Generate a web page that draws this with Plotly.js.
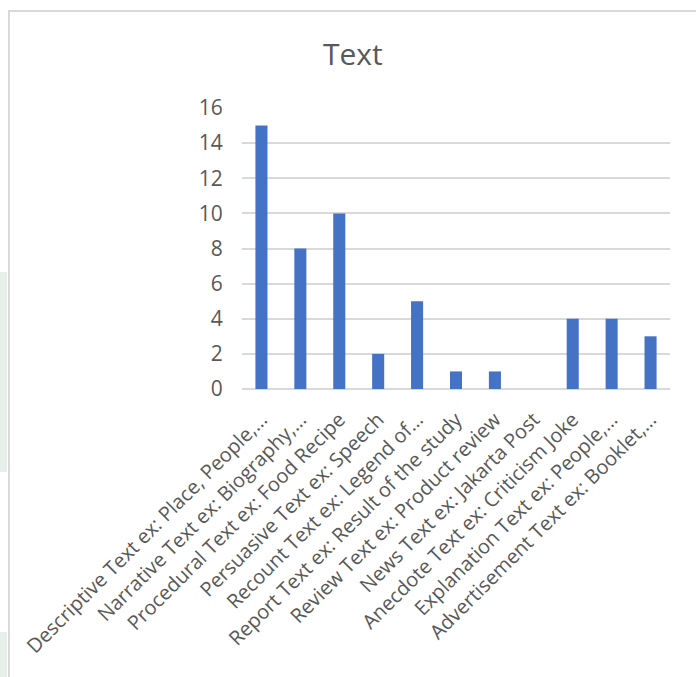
<!DOCTYPE html>
<html>
<head>
<meta charset="utf-8">
<script src="https://cdn.plot.ly/plotly-3.0.1.min.js"></script>
<style>
  html, body { margin: 0; padding: 0; background: #ffffff; }
  #wrap { position: relative; width: 696px; height: 677px; overflow: hidden; }
  #frame { position: absolute; left: 8px; top: 10px; width: 700px; height: 680px;
           border-top: 2px solid #d9d9d9; border-left: 2px solid #d9d9d9; pointer-events: none; }
  .leaf { position: absolute; left: 0; width: 7px; background: #d3e2d8; opacity: 0.55; }
  #chart { position: absolute; left: 0; top: 0; width: 696px; height: 677px; }
</style>
</head>
<body>
<div id="wrap">
  <div class="leaf" style="top:272px;height:200px;"></div>
  <div class="leaf" style="top:632px;height:45px;"></div>
  <div id="chart"></div>
  <div id="frame"></div>
</div>
<script>
// Text types and how many times each appears
const categories = [
  "Descriptive Text ex: Place, People,…",
  "Narrative Text ex: Biography,…",
  "Procedural Text ex: Food Recipe",
  "Persuasive Text ex: Speech",
  "Recount Text ex: Legend of…",
  "Report Text ex: Result of the study",
  "Review Text ex: Product review",
  "News Text ex: Jakarta Post",
  "Anecdote Text ex: Criticism Joke",
  "Explanation Text ex: People,…",
  "Advertisement Text ex: Booklet,…"
];
const counts = [15, 8, 10, 2, 5, 1, 1, 0, 4, 4, 3];
const yTicks = [0, 2, 4, 6, 8, 10, 12, 14, 16];

const FONT = "'Open Sans', 'Noto Sans', sans-serif";
const GREY = "#595959";

const trace = {
  type: "bar",
  x: categories,
  y: counts,
  marker: { color: "#4472C4" },
  hoverinfo: "x+y"
};

const layout = {
  width: 696,
  height: 677,
  margin: { l: 242, r: 26, t: 108, b: 288, pad: 0 },
  paper_bgcolor: "rgba(0,0,0,0)",
  plot_bgcolor: "rgba(0,0,0,0)",
  showlegend: false,
  bargap: 0.69,
  font: { family: FONT, color: GREY, size: 20 },
  title: {
    text: "Text",
    font: { family: FONT, size: 30, color: GREY },
    xref: "container", x: 0.507, xanchor: "center",
    yref: "container", y: 0.919, yanchor: "middle"
  },
  xaxis: {
    type: "category",
    tickangle: -45,
    tickfont: { family: FONT, size: 20, color: GREY },
    ticklabelstandoff: 14,
    showgrid: false,
    showline: false,
    ticks: "",
    zeroline: false,
    fixedrange: true
  },
  yaxis: {
    range: [0, 16],
    tickvals: yTicks,
    ticktext: yTicks.map(String),
    tickfont: { family: FONT, size: 21, color: GREY },
    showgrid: true,
    gridcolor: "#d9d9d9",
    gridwidth: 2,
    zeroline: true,
    zerolinecolor: "#d9d9d9",
    zerolinewidth: 2,
    showline: false,
    ticks: "outside",
    ticklen: 14,
    tickcolor: "rgba(0,0,0,0)",
    fixedrange: true
  }
};

Plotly.newPlot("chart", [trace], layout, { displayModeBar: false, staticPlot: true });
</script>
</body>
</html>
